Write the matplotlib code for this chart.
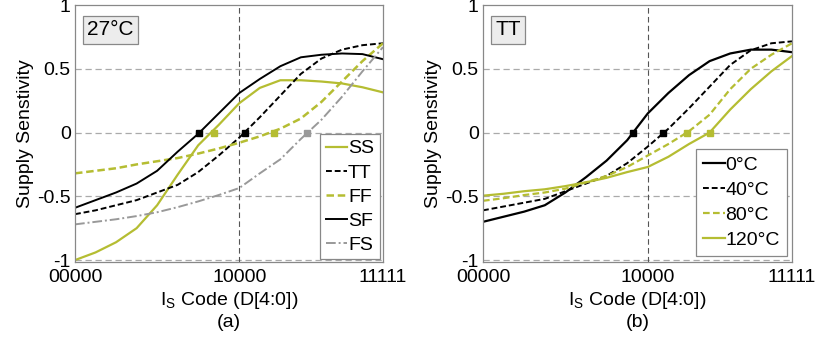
import matplotlib
matplotlib.use("Agg")
import matplotlib.pyplot as plt
import numpy as np

plt.rcParams['font.family'] = ['Liberation Sans', 'DejaVu Sans']
plt.rcParams['mathtext.fontset'] = 'custom'
plt.rcParams['mathtext.rm'] = 'Liberation Sans'
plt.rcParams['mathtext.it'] = 'Liberation Sans'

OLIVE = '#b5bd32'
GRAY = '#999999'

x_codes = [0, 2, 4, 6, 8, 10, 12, 14, 16, 18, 20, 22, 24, 26, 28, 30]
xtick_pos = [0, 16, 30]
xtick_labels = ['00000', '10000', '11111']
ytick_pos = [-1, -0.5, 0, 0.5, 1]
ytick_labels = ['-1', '-0.5', '0', '0.5', '1']

# Panel (a): process corners at 27°C
ss = [-1.0, -0.94, -0.86, -0.75, -0.57, -0.33, -0.10, 0.06, 0.23, 0.35, 0.41, 0.41, 0.40, 0.385, 0.355, 0.315]
tt = [-0.64, -0.61, -0.57, -0.53, -0.47, -0.41, -0.31, -0.18, -0.04, 0.12, 0.29, 0.46, 0.58, 0.65, 0.685, 0.70]
ff = [-0.32, -0.30, -0.28, -0.25, -0.225, -0.20, -0.165, -0.125, -0.08, -0.03, 0.03, 0.11, 0.24, 0.40, 0.56, 0.70]
sf = [-0.59, -0.53, -0.47, -0.40, -0.30, -0.15, -0.01, 0.15, 0.31, 0.42, 0.52, 0.59, 0.61, 0.62, 0.615, 0.575]
fs = [-0.72, -0.70, -0.68, -0.655, -0.625, -0.585, -0.54, -0.49, -0.435, -0.32, -0.21, -0.05, 0.10, 0.28, 0.48, 0.67]
zero_a = {'SS': 13.5, 'TT': 16.6, 'FF': 19.4, 'SF': 12.1, 'FS': 22.6}

# Panel (b): TT corner at temperatures
t0 = [-0.70, -0.66, -0.62, -0.57, -0.47, -0.35, -0.22, -0.06, 0.15, 0.31, 0.45, 0.56, 0.62, 0.65, 0.65, 0.63]
t40 = [-0.61, -0.58, -0.55, -0.52, -0.46, -0.40, -0.34, -0.24, -0.11, 0.03, 0.19, 0.36, 0.53, 0.645, 0.70, 0.715]
t80 = [-0.535, -0.515, -0.49, -0.47, -0.44, -0.39, -0.34, -0.27, -0.18, -0.09, 0.01, 0.14, 0.34, 0.50, 0.61, 0.70]
t120 = [-0.495, -0.48, -0.46, -0.445, -0.42, -0.39, -0.355, -0.31, -0.27, -0.19, -0.09, 0.0, 0.18, 0.34, 0.48, 0.60]
zero_b = {'0°C': 14.6, '40°C': 17.5, '80°C': 19.8, '120°C': 22.0}

fig = plt.figure(figsize=(8.22, 3.43), dpi=100)
ax1 = fig.add_axes([75/822, 81/343, 308/822, 257/343])
ax2 = fig.add_axes([483/822, 81/343, 309/822, 257/343])


def style(ax, label, boxtext):
    ax.set_xlim(0, 30)
    ax.set_ylim(-1.015, 1.0)
    for y in [-1, -0.5, 0, 0.5]:
        ax.axhline(y, color='#aaaaaa', lw=0.9, ls=(0, (5, 3)), zorder=0)
    ax.axvline(16, color='#555555', lw=0.8, ls=(0, (5, 3)), zorder=0)
    ax.set_xticks(xtick_pos)
    ax.set_xticklabels(xtick_labels, fontsize=14)
    ax.set_yticks(ytick_pos)
    ax.set_yticklabels(ytick_labels, fontsize=14)
    ax.tick_params(axis='x', length=0, pad=5)
    ax.tick_params(axis='y', length=0, pad=3)
    for s in ax.spines.values():
        s.set_color('#888888')
        s.set_linewidth(0.9)
    ax.set_ylabel('Supply Senstivity', fontsize=14, labelpad=2)
    ax.set_xlabel(r'I$_\mathregular{S}$ Code (D[4:0])' + '\n' + label, fontsize=14, labelpad=3,
                  linespacing=1.2)
    ax.text(0.04, 0.94, boxtext, transform=ax.transAxes, fontsize=15, va='top', ha='left',
            bbox=dict(boxstyle='square,pad=0.2', fc='#ececec', ec='#888888', lw=0.9))


def zero_marker(ax, xz, color):
    ax.plot([xz], [0], marker='s', ms=5, color=color, zorder=5)


ax1.plot(x_codes, ss, color=OLIVE, lw=1.6, ls='-', label='SS')
ax1.plot(x_codes, tt, color='black', lw=1.4, ls=(0, (3, 1.5)), label='TT')
ax1.plot(x_codes, ff, color=OLIVE, lw=1.8, ls=(0, (3, 1.5)), label='FF')
ax1.plot(x_codes, sf, color='black', lw=1.4, ls='-', label='SF')
ax1.plot(x_codes, fs, color=GRAY, lw=1.4, ls=(0, (5, 1.5, 1, 1.5)), label='FS')
zero_marker(ax1, zero_a['SF'], 'black')
zero_marker(ax1, zero_a['SS'], OLIVE)
zero_marker(ax1, zero_a['TT'], 'black')
zero_marker(ax1, zero_a['FF'], OLIVE)
zero_marker(ax1, zero_a['FS'], GRAY)
style(ax1, '(a)', '27°C')
leg1 = ax1.legend(loc='lower right', bbox_to_anchor=(0.99, 0.01), fontsize=14,
                  handlelength=1.1, handletextpad=0.05,
                  labelspacing=0.33, borderpad=0.3, borderaxespad=0.0, frameon=True,
                  fancybox=False, edgecolor='#888888', framealpha=1)
leg1.get_frame().set_linewidth(0.9)

ax2.plot(x_codes, t0, color='black', lw=1.6, ls='-', label='0°C')
ax2.plot(x_codes, t40, color='black', lw=1.4, ls=(0, (3, 1.5)), label='40°C')
ax2.plot(x_codes, t80, color=OLIVE, lw=1.6, ls=(0, (3, 1.5)), label='80°C')
ax2.plot(x_codes, t120, color=OLIVE, lw=1.6, ls='-', label='120°C')
zero_marker(ax2, zero_b['0°C'], 'black')
zero_marker(ax2, zero_b['40°C'], 'black')
zero_marker(ax2, zero_b['80°C'], OLIVE)
zero_marker(ax2, zero_b['120°C'], OLIVE)
style(ax2, '(b)', 'TT')
leg2 = ax2.legend(loc='lower right', bbox_to_anchor=(0.983, 0.025), fontsize=14,
                  handlelength=1.1, handletextpad=0.05, labelspacing=0.38, borderpad=0.35,
                  borderaxespad=0.0, frameon=True,
                  fancybox=False, edgecolor='#888888', framealpha=1)
leg2.get_frame().set_linewidth(0.9)

fig.savefig('out.png', dpi=100)
